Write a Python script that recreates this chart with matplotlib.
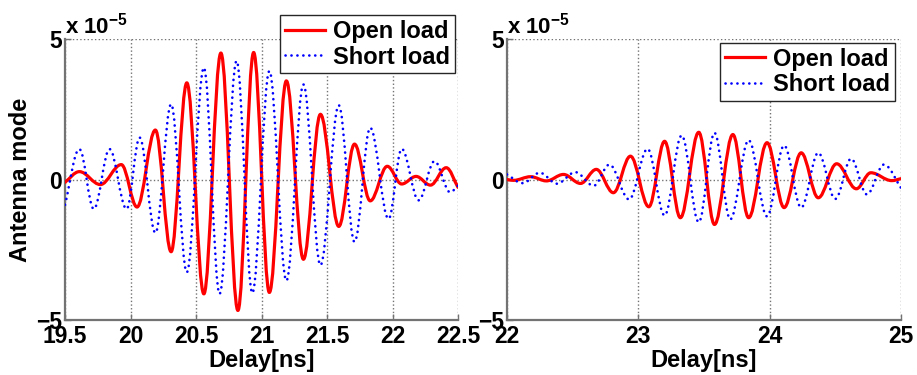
import matplotlib
matplotlib.use("Agg")
import matplotlib.pyplot as plt
from matplotlib.path import Path
from matplotlib.patches import PathPatch
from matplotlib.lines import Line2D

# ---------------- data (values in units of 1e-5) -------------
# Left panel: extrema (peaks / troughs) of each waveform plus end points
open_left_t = [19.50, 19.61, 19.77, 19.93, 20.05, 20.19, 20.31, 20.43, 20.56, 20.69,
               20.82, 20.94, 21.06, 21.19, 21.32, 21.45, 21.59, 21.71, 21.83, 21.96,
               22.07, 22.18, 22.29, 22.41, 22.50]
open_left_v = [-0.10, 0.28, -0.18, 0.53, -0.98, 1.76, -2.57, 3.44, -4.07, 4.50,
               -4.66, 4.52, -4.02, 3.51, -2.84, 2.32, -1.67, 1.26, -0.76, 0.47,
               -0.16, 0.11, -0.20, 0.42, -0.28]

short_left_t = [19.50, 19.61, 19.72, 19.84, 19.97, 20.07, 20.19, 20.31, 20.43, 20.56,
                20.68, 20.81, 20.93, 21.06, 21.19, 21.32, 21.45, 21.59, 21.71, 21.83,
                21.97, 22.07, 22.20, 22.32, 22.44, 22.50]
short_left_v = [-0.90, 1.08, -1.05, 1.08, -1.05, 1.49, -1.90, 2.68, -3.30, 3.98,
                -4.07, 4.22, -4.04, 3.86, -3.60, 3.38, -3.05, 2.64, -2.22, 1.84,
                -1.40, 1.09, -0.74, 0.65, -0.45, -0.22]

# Right panel
open_right_t = [22.00, 22.05, 22.18, 22.30, 22.43, 22.56, 22.68, 22.81, 22.94, 23.08,
                23.20, 23.32, 23.46, 23.58, 23.72, 23.84, 23.98, 24.11, 24.24, 24.37,
                24.51, 24.66, 24.77, 24.93, 25.00]
open_right_v = [0.00, -0.03, 0.10, -0.05, 0.18, -0.14, 0.36, -0.47, 0.83, -0.97,
                1.36, -1.36, 1.68, -1.60, 1.60, -1.36, 1.31, -1.00, 0.95, -0.65,
                0.56, -0.33, 0.24, -0.04, 0.03]

short_right_t = [22.00, 22.12, 22.25, 22.38, 22.52, 22.66, 22.78, 22.93, 23.07, 23.20,
                 23.33, 23.46, 23.58, 23.70, 23.84, 23.98, 24.11, 24.24, 24.37, 24.50,
                 24.62, 24.74, 24.87, 25.00]
short_right_v = [0.18, -0.13, 0.24, -0.15, 0.26, -0.22, 0.53, -0.71, 1.09, -1.28,
                 1.57, -1.52, 1.66, -1.42, 1.40, -1.31, 1.21, -1.00, 0.95, -0.69,
                 0.74, -0.53, 0.53, -0.30]

left_xticks = [19.5, 20, 20.5, 21, 21.5, 22, 22.5]
left_xticklabels = ["19.5", "20", "20.5", "21", "21.5", "22", "22.5"]
right_xticks = [22, 23, 24, 25]
right_xticklabels = ["22", "23", "24", "25"]
yticks = [-5, 0, 5]
yticklabels = ["\u22125", "0", "5"]
series_labels = ["Open load", "Short load"]
xlabel = "Delay[ns]"
ylabel = "Antenna mode"
exponent_text = r"x 10$^{-5}$"

# ---------------- style ----------------
plt.rcParams["font.family"] = ["Liberation Sans", "DejaVu Sans"]
plt.rcParams["font.weight"] = "bold"
plt.rcParams["mathtext.fontset"] = "custom"
plt.rcParams["mathtext.rm"] = "Liberation Sans:bold"
plt.rcParams["mathtext.it"] = "Liberation Sans:bold"
plt.rcParams["mathtext.bf"] = "Liberation Sans:bold"

RED = "#ff0000"
BLUE = "#0000ff"
RED_LW = 2.3
BLUE_LW = 1.9
BLUE_DASH = (0, (0.05, 2.2))
K = 1 - 2 / 3.141592653589793  # Bezier handle factor for sinusoidal half-waves


def wave_path(ts, vs):
    """Smooth path through the extrema (horizontal tangents at extrema)."""
    verts = [(ts[0], vs[0])]
    codes = [Path.MOVETO]
    n = len(ts)
    for i in range(n - 1):
        t0, v0, t1, v1 = ts[i], vs[i], ts[i + 1], vs[i + 1]
        d = t1 - t0
        if i == 0:
            c1 = (t0 + d / 3, v0 + (v1 - v0) / 3)
        else:
            c1 = (t0 + K * d, v0)
        if i == n - 2:
            c2 = (t1 - d / 3, v1 - (v1 - v0) / 3)
        else:
            c2 = (t1 - K * d, v1)
        verts += [c1, c2, (t1, v1)]
        codes += [Path.CURVE4] * 3
    return Path(verts, codes)


fig = plt.figure(figsize=(9.17, 3.75), dpi=100)
axL = fig.add_axes([65 / 917, 55 / 375, 393 / 917, 281 / 375])
axR = fig.add_axes([507 / 917, 55 / 375, 394 / 917, 281 / 375])

panels = [
    (axL, open_left_t, open_left_v, short_left_t, short_left_v,
     (19.5, 22.5), left_xticks, left_xticklabels, (0.992, 1.085)),
    (axR, open_right_t, open_right_v, short_right_t, short_right_v,
     (22, 25), right_xticks, right_xticklabels, (0.985, 0.986)),
]

for ax, ot, ov, st, sv, xlim, xt, xtl, leg_anchor in panels:
    ax.add_patch(PathPatch(wave_path(ot, ov), fill=False, edgecolor=RED,
                           lw=RED_LW, capstyle="round", joinstyle="round", zorder=3))
    ax.add_patch(PathPatch(wave_path(st, sv), fill=False, edgecolor=BLUE,
                           lw=BLUE_LW, linestyle=BLUE_DASH, capstyle="round", zorder=4))
    ax.set_xlim(*xlim)
    ax.set_ylim(-5, 5)
    ax.set_xticks(xt)
    ax.set_xticklabels(xtl)
    ax.set_yticks(yticks)
    ax.set_yticklabels(yticklabels)
    ax.grid(True, linestyle=":", color="0.45", linewidth=1.0)
    ax.set_axisbelow(True)
    for s in ("top", "right"):
        ax.spines[s].set_visible(False)
    for s in ("left", "bottom"):
        ax.spines[s].set_color("0.45")
        ax.spines[s].set_linewidth(1.6)
    ax.tick_params(axis="both", direction="in", length=4, width=1, color="0.45",
                   labelsize=16.5, labelcolor="black")
    ax.tick_params(axis="x", pad=3.5)
    ax.tick_params(axis="y", pad=2)
    ax.set_xlabel(xlabel, fontsize=17, fontweight="bold", labelpad=0.5)
    ax.text(0.0, 1.02, exponent_text, transform=ax.transAxes, ha="left",
            va="baseline", fontsize=16, fontweight="bold")
    handles = [Line2D([], [], color=RED, lw=RED_LW),
               Line2D([], [], color=BLUE, lw=BLUE_LW, linestyle=BLUE_DASH,
                      dash_capstyle="round")]
    leg = ax.legend(handles, series_labels, loc="upper right",
                    bbox_to_anchor=leg_anchor, frameon=True, fancybox=False,
                    framealpha=1, edgecolor="0.15",
                    prop={"family": "Liberation Sans", "weight": "bold", "size": 17},
                    handlelength=1.7, handletextpad=0.35, labelspacing=0.12,
                    borderpad=0.2, borderaxespad=0)
    leg.get_frame().set_linewidth(1.0)
    leg.set_zorder(10)

axL.set_ylabel(ylabel, fontsize=17, fontweight="bold", labelpad=3)

fig.savefig("out.png", dpi=100)
